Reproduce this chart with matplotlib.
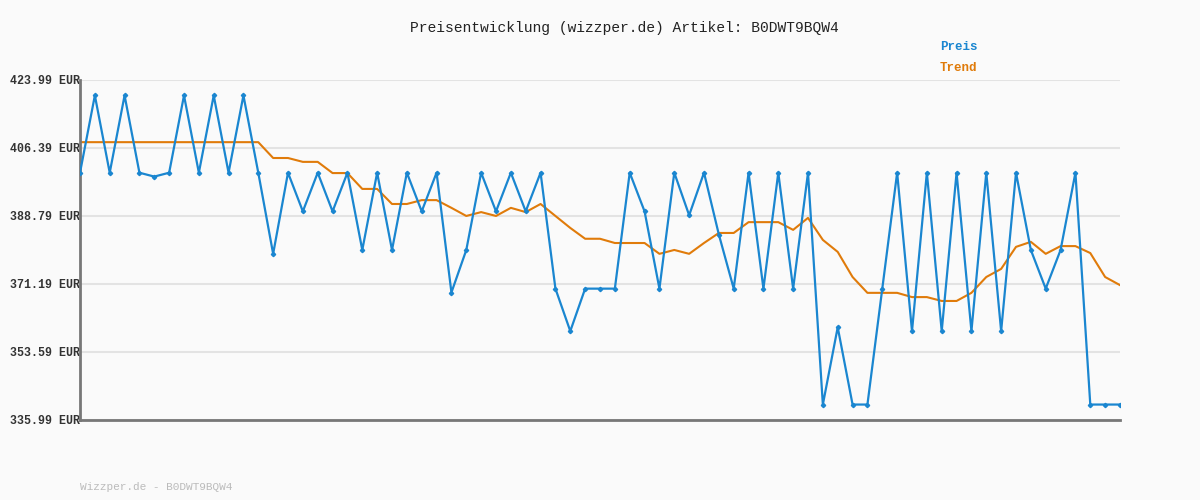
import matplotlib.pyplot as plt

# Preis per Messpunkt (EUR)
preis = [399.99, 419.99, 399.99, 419.99, 399.99, 398.99, 399.99, 419.99, 399.99, 419.99,
         399.99, 419.99, 399.99, 378.99, 399.99, 389.99, 399.99, 389.99, 399.99, 379.99,
         399.99, 379.99, 399.99, 389.99, 399.99, 368.99, 379.99, 399.99, 389.99, 399.99,
         389.99, 399.99, 369.99, 358.99, 369.99, 369.99, 369.99, 399.99, 389.99, 369.99,
         399.99, 388.99, 399.99, 383.99, 369.99, 399.99, 369.99, 399.99, 369.99, 399.99,
         339.99, 359.99, 339.99, 339.99, 369.99, 399.99, 358.99, 399.99, 358.99, 399.99,
         358.99, 399.99, 358.99, 399.99, 379.99, 369.99, 379.99, 399.99, 339.99, 339.99,
         339.99]
trend = [407.9] * 13 + [
         403.8, 403.8, 402.8, 402.8, 399.9, 399.9, 395.8, 395.8, 391.9, 391.9,
         392.9, 392.9, 390.9, 388.8, 389.8, 388.8, 390.9, 389.8, 391.9, 388.8,
         385.7, 382.9, 382.9, 381.8, 381.8, 381.8, 379.0, 380.0, 379.0, 381.8,
         384.4, 384.4, 387.2, 387.2, 387.2, 385.2, 388.3, 382.6, 379.5, 373.0,
         368.9, 368.9, 368.9, 367.8, 367.8, 366.8, 366.8, 368.9, 373.0, 375.1,
         380.8, 382.1, 379.0, 381.0, 381.0, 379.2, 373.0, 370.9]
yticks = [335.99, 353.59, 371.19, 388.79, 406.39, 423.99]

bg = "#fafafa"
mono = ["Liberation Mono", "DejaVu Sans Mono"]
fig = plt.figure(figsize=(12, 5), dpi=100, facecolor=bg)
ax = fig.add_axes([80 / 1200, 0.16, 1040 / 1200, 0.68], facecolor=bg)

x = range(len(preis))
ax.plot(x, preis, color="#1a86d0", lw=1.6, marker="D", ms=2.2, zorder=3)
ax.plot(range(len(trend)), trend, color="#e07b0a", lw=1.5, zorder=2)

ax.set_xlim(0, len(preis) - 1)
ax.set_ylim(yticks[0], yticks[-1])
ax.set_yticks(yticks)
ax.set_yticklabels([f"{v:.2f} EUR" for v in yticks], family=mono,
                   fontsize=8.4, fontweight="bold", color="#333333")
ax.set_xticks([])
ax.tick_params(axis="y", length=0, pad=0)
ax.grid(axis="y", color="#e3e3e3", lw=1.5)
ax.set_axisbelow(True)
for s in ("top", "right"):
    ax.spines[s].set_visible(False)
for s in ("left", "bottom"):
    ax.spines[s].set_color("#777777")
    ax.spines[s].set_linewidth(2)

fig.text(0.52, 0.944, "Preisentwicklung (wizzper.de) Artikel: B0DWT9BQW4", ha="center",
         va="center", family=mono, fontsize=10.5, color="#222222")
fig.text(940 / 1200, 0.906, "Preis", family=mono, fontsize=9, fontweight="bold",
         color="#1a86d0", va="center")
fig.text(940 / 1200, 0.864, "Trend", family=mono, fontsize=9, fontweight="bold",
         color="#e07b0a", va="center")
fig.text(80 / 1200, 0.026, "Wizzper.de - B0DWT9BQW4", family=mono, fontsize=8,
         color="#bbbbbb", va="center")

fig.savefig("out.png", dpi=100, facecolor=bg)
